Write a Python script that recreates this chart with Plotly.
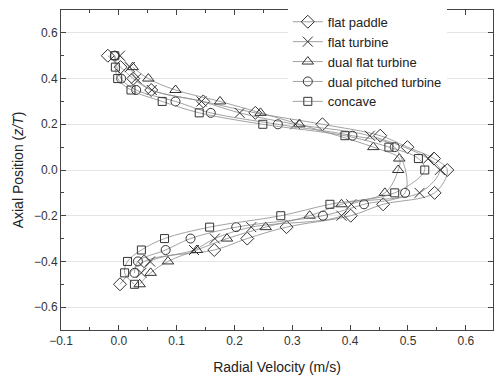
import plotly.graph_objects as go

# Axial positions (z/T) and radial velocities (m/s) per impeller
fp_z = [0.5, 0.45, 0.4, 0.35, 0.3, 0.25, 0.2, 0.15, 0.1, 0.05, 0.0, -0.1, -0.15, -0.2, -0.25, -0.3, -0.35, -0.4, -0.5]
fp_v = [-0.019, 0.003, 0.025, 0.056, 0.146, 0.236, 0.352, 0.452, 0.499, 0.545, 0.568, 0.546, 0.457, 0.401, 0.29, 0.222, 0.165, 0.044, 0.002]

ft_z = [0.5, 0.45, 0.4, 0.35, 0.3, 0.25, 0.2, 0.15, 0.05, 0.0, -0.1, -0.15, -0.2, -0.25, -0.3, -0.35, -0.4, -0.45]
ft_v = [0.002, 0.019, 0.03, 0.057, 0.143, 0.209, 0.305, 0.434, 0.535, 0.555, 0.52, 0.402, 0.385, 0.229, 0.166, 0.13, 0.054, 0.039]

dft_z = [0.45, 0.4, 0.35, 0.3, 0.25, 0.2, 0.1, 0.05, 0.0, -0.1, -0.15, -0.2, -0.25, -0.3, -0.35, -0.4, -0.45, -0.5]
dft_v = [0.024, 0.051, 0.098, 0.175, 0.245, 0.312, 0.44, 0.485, 0.483, 0.46, 0.385, 0.33, 0.254, 0.187, 0.135, 0.085, 0.055, 0.036]

dpt_z = [0.5, 0.4, 0.35, 0.3, 0.25, 0.2, 0.15, 0.1, -0.1, -0.15, -0.2, -0.25, -0.3, -0.35, -0.4, -0.45]
dpt_v = [-0.007, 0.004, 0.03, 0.098, 0.159, 0.275, 0.404, 0.477, 0.495, 0.424, 0.353, 0.203, 0.124, 0.081, 0.033, 0.027]

cc_z = [0.5, 0.45, 0.4, 0.35, 0.3, 0.25, 0.2, 0.15, 0.1, 0.05, 0.0, -0.1, -0.15, -0.2, -0.25, -0.3, -0.35, -0.4, -0.45, -0.5]
cc_v = [-0.007, -0.006, -0.002, 0.021, 0.075, 0.139, 0.249, 0.391, 0.467, 0.518, 0.529, 0.477, 0.365, 0.28, 0.157, 0.079, 0.039, 0.015, 0.01, 0.027]

names = ["flat paddle", "flat turbine", "dual flat turbine", "dual pitched turbine", "concave"]
series = [(fp_v, fp_z), (ft_v, ft_z), (dft_v, dft_z), (dpt_v, dpt_z), (cc_v, cc_z)]
symbols = ["diamond-open", "x-thin-open", "triangle-up-open", "circle-open", "square-open"]
sizes = [10, 10, 10, 9, 8]

fig = go.Figure()
for name, (v, z), sym, sz in zip(names, series, symbols, sizes):
    fig.add_trace(go.Scatter(
        x=v, y=z, name=name, mode="lines+markers",
        line=dict(color="#8a8a8a", width=0.8, shape="spline", smoothing=1.0),
        marker=dict(symbol=sym, size=sz, color="#333333",
                    line=dict(color="#333333", width=1)),
    ))

axis_common = dict(
    showline=True, linecolor="#444444", linewidth=1, mirror="ticks",
    ticks="inside", ticklen=5, tickcolor="#444444", zeroline=False,
    tickfont=dict(size=12, color="#333333"),
)

fig.update_xaxes(
    range=[-0.1, 0.647], dtick=0.1, tick0=0, tickformat=".1f", showgrid=False,
    minor=dict(ticks="inside", ticklen=3, dtick=0.05, tick0=0, tickcolor="#444444", showgrid=False),
    title=dict(text="Radial Velocity (m/s)", font=dict(size=14, color="#222222"), standoff=14),
    **axis_common,
)
fig.update_yaxes(
    range=[-0.7, 0.7], dtick=0.2, tick0=0, tickformat=".1f",
    showgrid=True, gridcolor="#e4e4e4", gridwidth=1,
    minor=dict(ticks="inside", ticklen=3, dtick=0.1, tick0=0, tickcolor="#444444", showgrid=False),
    title=dict(text="Axial Position (<i>z/T</i>)", font=dict(size=14, color="#222222"), standoff=6),
    **axis_common,
)

fig.update_layout(
    width=494, height=378,
    margin=dict(l=61, r=1, t=10, b=48),
    paper_bgcolor="white", plot_bgcolor="white",
    font=dict(family="Arial, Liberation Sans, sans-serif", size=12, color="#222222"),
    legend=dict(x=0.525, y=1.01, xanchor="left", yanchor="top",
                bgcolor="white", borderwidth=0,
                font=dict(size=13, color="#222222"),
                tracegroupgap=0, itemwidth=30),
    showlegend=True,
)

fig.write_html("out.html")
